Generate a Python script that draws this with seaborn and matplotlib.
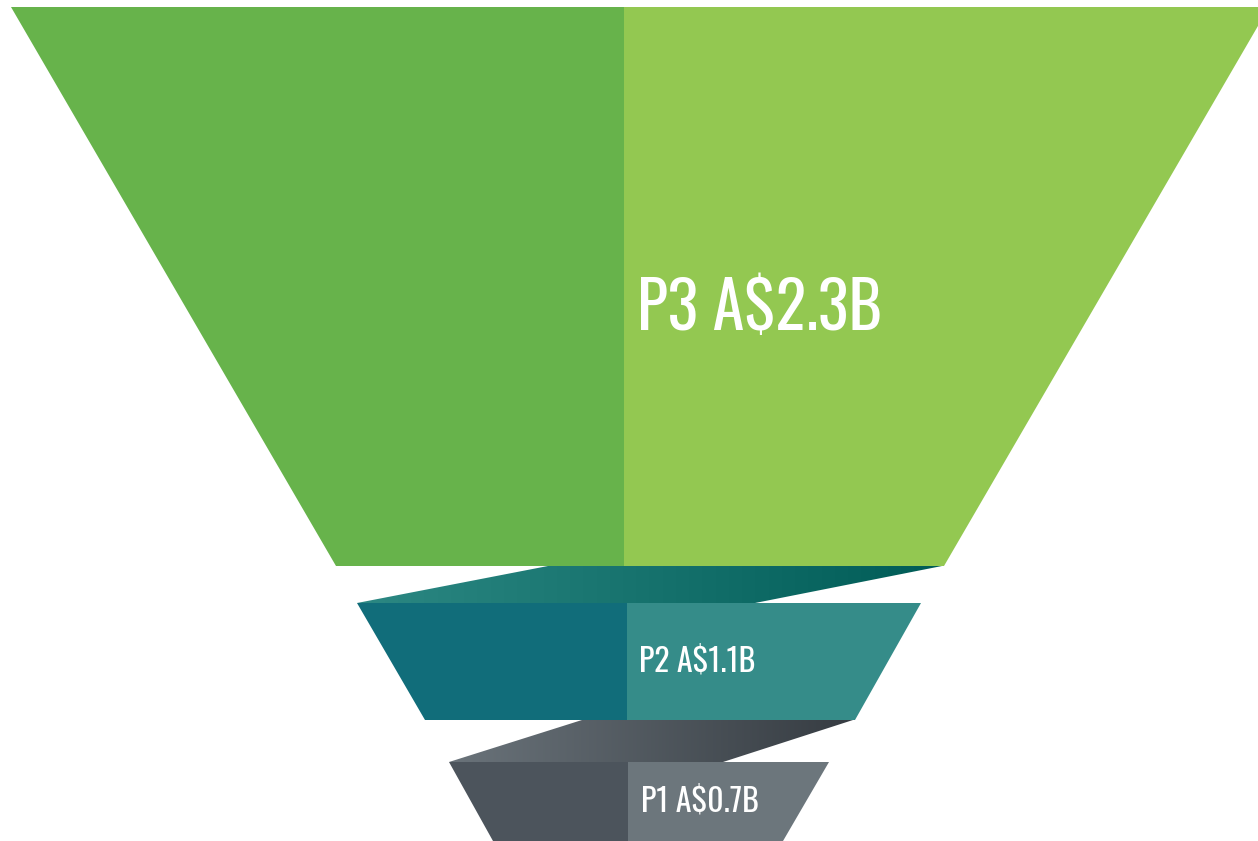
import numpy as np
import matplotlib.pyplot as plt
import seaborn as sns
from matplotlib.colors import LinearSegmentedColormap
from matplotlib.patches import Polygon

# data
stages = ["P3", "P2", "P1"]
values = [2.3, 1.1, 0.7]
labels = [f"{s} A${v}B" for s, v in zip(stages, values)]

# layout in pixel coordinates: (top_y, bottom_y, top_left, top_right, bottom_left, bottom_right, split)
layers = [
    (7, 566, 11, 1269, 336, 944, 624),
    (603, 720, 357, 921, 425, 855, 627),
    (762, 841, 449, 829, 493, 783, 628),
]
left_cols = ["#67B34B", "#116D7A", "#4C545C"]
right_cols = ["#93C851", "#358C89", "#6C767C"]
label_pos = [(637, 330, 46), (639, 671, 23), (641, 812, 23)]

# connecting bands between layers (top_left, top_right, bottom_left, bottom_right, top_y, bottom_y)
bands = [
    (548, 942, 357, 755, 566, 603),
    (582, 853, 449, 723, 720, 762),
]
band_cols = [("#2C8883", "#005C57"), ("#6A737A", "#363C42")]

sns.set_theme(style="white")
plt.rcParams['font.family'] = ['Oswald', 'DejaVu Sans']

fig = plt.figure(figsize=(12.58, 8.41), dpi=100)
ax = fig.add_axes([0, 0, 1, 1])
ax.set_xlim(0, 1258)
ax.set_ylim(841, 0)
ax.axis("off")

for (ty, by, tl, tr, bl, br, sx), lc, rc in zip(layers, left_cols, right_cols):
    left = [(tl, ty), (sx, ty), (sx, by), (bl, by)]
    right = [(sx, ty), (tr, ty), (br, by), (sx, by)]
    ax.add_patch(Polygon(left, closed=True, facecolor=lc, edgecolor="none"))
    ax.add_patch(Polygon(right, closed=True, facecolor=rc, edgecolor="none"))

for (tl, tr, bl, br, ty, by), (c0, c1) in zip(bands, band_cols):
    poly = Polygon([(tl, ty), (tr, ty), (br, by), (bl, by)], closed=True,
                   facecolor="none", edgecolor="none")
    ax.add_patch(poly)
    cmap = LinearSegmentedColormap.from_list("band", [c0, c1])
    grad = np.linspace(0, 1, 256).reshape(1, -1)
    x0, x1 = min(tl, bl), max(tr, br)
    im = ax.imshow(grad, cmap=cmap, extent=(x0, x1, by, ty), aspect="auto",
                   interpolation="bilinear", zorder=1)
    im.set_clip_path(poly)

for text, (x, y, fs) in zip(labels, label_pos):
    ax.text(x, y, text, color="white", fontsize=fs, fontweight="light",
            ha="left", va="baseline", zorder=3)

ax.set_xlim(0, 1258)
ax.set_ylim(841, 0)
fig.savefig("out.png", dpi=100)
